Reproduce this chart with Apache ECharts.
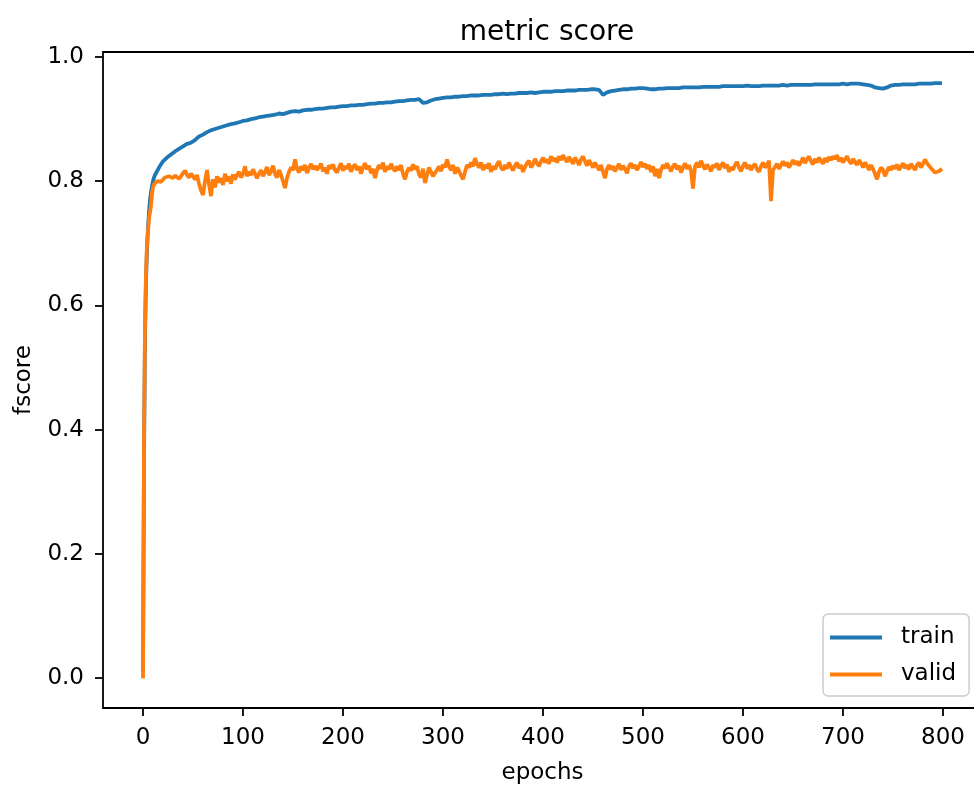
<!DOCTYPE html>
<html>
<head>
<meta charset="utf-8">
<script src="https://cdn.jsdelivr.net/npm/echarts@6/dist/echarts.min.js"></script>
<style>
  html, body { margin: 0; padding: 0; background: #ffffff; }
  #chart { width: 974px; height: 785px; }
</style>
</head>
<body>
<div id="chart"></div>
<script>
// train curve, read every 4 epochs after the initial ramp
const trainEpochs = [
  0, 1, 2, 3, 4, 5, 6, 7, 8, 9, 10, 11,
  12, 16, 20, 24, 28, 32, 36, 40, 44, 48,
  52, 56, 60, 64, 68, 72, 76, 80, 84, 88,
  92, 96, 100, 104, 108, 112, 116, 120, 124, 128,
  132, 136, 140, 144, 148, 152, 156, 160, 164, 168,
  172, 176, 180, 184, 188, 192, 196, 200, 204, 208,
  212, 216, 220, 224, 228, 232, 236, 240, 244, 248,
  252, 256, 260, 264, 268, 272, 276, 280, 284, 288,
  292, 296, 300, 304, 308, 312, 316, 320, 324, 328,
  332, 336, 340, 344, 348, 352, 356, 360, 364, 368,
  372, 376, 380, 384, 388, 392, 396, 400, 404, 408,
  412, 416, 420, 424, 428, 432, 436, 440, 444, 448,
  452, 456, 460, 464, 468, 472, 476, 480, 484, 488,
  492, 496, 500, 504, 508, 512, 516, 520, 524, 528,
  532, 536, 540, 544, 548, 552, 556, 560, 564, 568,
  572, 576, 580, 584, 588, 592, 596, 600, 604, 608,
  612, 616, 620, 624, 628, 632, 636, 640, 644, 648,
  652, 656, 660, 664, 668, 672, 676, 680, 684, 688,
  692, 696, 700, 704, 708, 712, 716, 720, 724, 728,
  732, 736, 740, 744, 748, 752, 756, 760, 764, 768,
  772, 776, 780, 784, 788, 792, 796, 799
];

const trainScore = [
  0.010, 0.350, 0.550, 0.640, 0.690, 0.725, 0.750, 0.770, 0.782, 0.792, 0.800, 0.806,
  0.810, 0.822, 0.832, 0.838, 0.843, 0.848, 0.852, 0.856, 0.860, 0.862,
  0.866, 0.872, 0.875, 0.879, 0.882, 0.884, 0.886, 0.888, 0.890, 0.892,
  0.893, 0.895, 0.897, 0.898, 0.900, 0.901, 0.903, 0.904, 0.905, 0.906,
  0.907, 0.909, 0.908, 0.910, 0.912, 0.913, 0.912, 0.914, 0.915, 0.915,
  0.916, 0.917, 0.917, 0.918, 0.919, 0.919, 0.920, 0.921, 0.921, 0.922,
  0.922, 0.923, 0.923, 0.924, 0.925, 0.925, 0.926, 0.926, 0.927, 0.927,
  0.928, 0.929, 0.929, 0.930, 0.931, 0.931, 0.932, 0.926, 0.927, 0.930,
  0.932, 0.933, 0.934, 0.935, 0.935, 0.936, 0.936, 0.937, 0.937, 0.938,
  0.938, 0.938, 0.939, 0.939, 0.939, 0.940, 0.940, 0.941, 0.940, 0.941,
  0.941, 0.942, 0.942, 0.942, 0.943, 0.942, 0.943, 0.944, 0.944, 0.944,
  0.945, 0.945, 0.945, 0.946, 0.946, 0.946, 0.947, 0.947, 0.947, 0.948,
  0.948, 0.947, 0.939, 0.943, 0.945, 0.946, 0.947, 0.948, 0.948, 0.949,
  0.949, 0.950, 0.950, 0.949, 0.948, 0.948, 0.949, 0.949, 0.950, 0.950,
  0.950, 0.950, 0.951, 0.951, 0.951, 0.951, 0.951, 0.952, 0.952, 0.952,
  0.952, 0.952, 0.953, 0.953, 0.953, 0.953, 0.953, 0.953, 0.954, 0.953,
  0.953, 0.953, 0.954, 0.954, 0.954, 0.954, 0.954, 0.955, 0.954, 0.955,
  0.955, 0.955, 0.955, 0.955, 0.955, 0.956, 0.956, 0.956, 0.956, 0.956,
  0.956, 0.956, 0.957, 0.956, 0.957, 0.957, 0.957, 0.956, 0.955, 0.954,
  0.951, 0.950, 0.949, 0.951, 0.954, 0.955, 0.955, 0.956, 0.956, 0.956,
  0.956, 0.957, 0.957, 0.957, 0.957, 0.958, 0.958, 0.958
];

// valid curve, read every 2 epochs after the initial ramp
const validEpochs = [
  0, 1, 2, 3, 4, 5, 6, 7, 8, 9, 10, 11,
  12, 14, 16, 18, 20, 22, 24, 26, 28, 30, 32, 34, 36, 38, 40, 42, 44, 46, 48, 50,
  52, 54, 56, 58, 60, 62, 64, 66, 68, 70, 72, 74, 76, 78, 80, 82, 84, 86, 88, 90,
  92, 94, 96, 98, 100, 102, 104, 106, 108, 110, 112, 114, 116, 118, 120, 122, 124, 126, 128, 130,
  132, 134, 136, 138, 140, 142, 144, 146, 148, 150, 152, 154, 156, 158, 160, 162, 164, 166, 168, 170,
  172, 174, 176, 178, 180, 182, 184, 186, 188, 190, 192, 194, 196, 198, 200, 202, 204, 206, 208, 210,
  212, 214, 216, 218, 220, 222, 224, 226, 228, 230, 232, 234, 236, 238, 240, 242, 244, 246, 248, 250,
  252, 254, 256, 258, 260, 262, 264, 266, 268, 270, 272, 274, 276, 278, 280, 282, 284, 286, 288, 290,
  292, 294, 296, 298, 300, 302, 304, 306, 308, 310, 312, 314, 316, 318, 320, 322, 324, 326, 328, 330,
  332, 334, 336, 338, 340, 342, 344, 346, 348, 350, 352, 354, 356, 358, 360, 362, 364, 366, 368, 370,
  372, 374, 376, 378, 380, 382, 384, 386, 388, 390, 392, 394, 396, 398, 400, 402, 404, 406, 408, 410,
  412, 414, 416, 418, 420, 422, 424, 426, 428, 430, 432, 434, 436, 438, 440, 442, 444, 446, 448, 450,
  452, 454, 456, 458, 460, 462, 464, 466, 468, 470, 472, 474, 476, 478, 480, 482, 484, 486, 488, 490,
  492, 494, 496, 498, 500, 502, 504, 506, 508, 510, 512, 514, 516, 518, 520, 522, 524, 526, 528, 530,
  532, 534, 536, 538, 540, 542, 544, 546, 548, 550, 552, 554, 556, 558, 560, 562, 564, 566, 568, 570,
  572, 574, 576, 578, 580, 582, 584, 586, 588, 590, 592, 594, 596, 598, 600, 602, 604, 606, 608, 610,
  612, 614, 616, 618, 620, 622, 624, 626, 628, 630, 632, 634, 636, 638, 640, 642, 644, 646, 648, 650,
  652, 654, 656, 658, 660, 662, 664, 666, 668, 670, 672, 674, 676, 678, 680, 682, 684, 686, 688, 690,
  692, 694, 696, 698, 700, 702, 704, 706, 708, 710, 712, 714, 716, 718, 720, 722, 724, 726, 728, 730,
  732, 734, 736, 738, 740, 742, 744, 746, 748, 750, 752, 754, 756, 758, 760, 762, 764, 766, 768, 770,
  772, 774, 776, 778, 780, 782, 784, 786, 788, 790, 792, 794, 796, 798, 799
];

const validScore = [
  0.000, 0.380, 0.570, 0.650, 0.700, 0.720, 0.740, 0.750, 0.760, 0.780, 0.790, 0.795,
  0.797, 0.800, 0.803, 0.799, 0.801, 0.806, 0.803, 0.808, 0.811, 0.805, 0.809, 0.812, 0.804, 0.808, 0.813, 0.817, 0.810, 0.806, 0.812, 0.808,
  0.803, 0.810, 0.796, 0.785, 0.778, 0.800, 0.818, 0.795, 0.776, 0.803, 0.790, 0.808, 0.798, 0.805, 0.794, 0.812, 0.800, 0.808, 0.796, 0.811,
  0.803, 0.810, 0.815, 0.806, 0.812, 0.824, 0.808, 0.815, 0.810, 0.819, 0.822, 0.805, 0.812, 0.818, 0.808, 0.815, 0.823, 0.810, 0.816, 0.825,
  0.812, 0.806, 0.818, 0.810, 0.800, 0.789, 0.805, 0.815, 0.822, 0.818, 0.835, 0.820, 0.814, 0.824, 0.818, 0.826, 0.813, 0.822, 0.828, 0.819,
  0.825, 0.818, 0.823, 0.828, 0.816, 0.822, 0.812, 0.826, 0.820, 0.827, 0.818, 0.814, 0.822, 0.829, 0.817, 0.824, 0.820, 0.828, 0.815, 0.823,
  0.827, 0.818, 0.824, 0.812, 0.822, 0.829, 0.819, 0.825, 0.813, 0.820, 0.805, 0.818, 0.826, 0.820, 0.830, 0.815, 0.824, 0.819, 0.828, 0.821,
  0.816, 0.824, 0.818, 0.826, 0.812, 0.803, 0.815, 0.822, 0.817, 0.827, 0.819, 0.824, 0.811, 0.806, 0.820, 0.797, 0.810, 0.822, 0.815, 0.808,
  0.805, 0.818, 0.824, 0.816, 0.827, 0.822, 0.835, 0.824, 0.818, 0.826, 0.812, 0.822, 0.817, 0.809, 0.803, 0.815, 0.826, 0.822, 0.830, 0.824,
  0.837, 0.828, 0.822, 0.830, 0.818, 0.826, 0.821, 0.829, 0.815, 0.824, 0.819, 0.827, 0.832, 0.822, 0.818, 0.826, 0.820, 0.830, 0.823, 0.817,
  0.825, 0.830, 0.821, 0.826, 0.815, 0.823, 0.829, 0.833, 0.822, 0.827, 0.836, 0.829, 0.824, 0.832, 0.838, 0.830, 0.835, 0.828, 0.840, 0.833,
  0.837, 0.830, 0.840, 0.834, 0.842, 0.836, 0.831, 0.839, 0.834, 0.828, 0.838, 0.833, 0.826, 0.835, 0.840, 0.832, 0.825, 0.834, 0.828, 0.822,
  0.830, 0.824, 0.818, 0.826, 0.815, 0.805, 0.820, 0.826, 0.819, 0.824, 0.816, 0.822, 0.828, 0.818, 0.825, 0.820, 0.813, 0.824, 0.829, 0.821,
  0.826, 0.818, 0.824, 0.831, 0.823, 0.828, 0.820, 0.826, 0.815, 0.824, 0.808, 0.820, 0.805, 0.818, 0.826, 0.821, 0.829, 0.822, 0.816, 0.824,
  0.828, 0.819, 0.825, 0.814, 0.822, 0.829, 0.820, 0.826, 0.817, 0.788, 0.824, 0.830, 0.822, 0.833, 0.825, 0.819, 0.827, 0.822, 0.816, 0.826,
  0.822, 0.829, 0.818, 0.825, 0.830, 0.821, 0.827, 0.815, 0.823, 0.818, 0.826, 0.831, 0.822, 0.816, 0.825, 0.830, 0.820, 0.826, 0.818, 0.824,
  0.828, 0.819, 0.815, 0.824, 0.830, 0.822, 0.826, 0.833, 0.768, 0.818, 0.823, 0.828, 0.820, 0.826, 0.832, 0.825, 0.830, 0.822, 0.828, 0.834,
  0.827, 0.832, 0.825, 0.831, 0.838, 0.829, 0.835, 0.840, 0.832, 0.827, 0.836, 0.830, 0.838, 0.833, 0.828, 0.837, 0.831, 0.839, 0.834, 0.840,
  0.836, 0.842, 0.832, 0.838, 0.830, 0.835, 0.840, 0.833, 0.828, 0.836, 0.831, 0.826, 0.834, 0.829, 0.822, 0.830, 0.825, 0.818, 0.826, 0.820,
  0.812, 0.803, 0.815, 0.822, 0.818, 0.808, 0.816, 0.823, 0.818, 0.825, 0.820, 0.827, 0.818, 0.824, 0.829, 0.821, 0.826, 0.819, 0.828, 0.823,
  0.818, 0.826, 0.830, 0.822, 0.828, 0.835, 0.829, 0.826, 0.821, 0.818, 0.814, 0.813, 0.816, 0.819, 0.820
];

const xTicks = [0, 100, 200, 300, 400, 500, 600, 700, 800];
const yTicks = [0, 0.2, 0.4, 0.6, 0.8, 1.0];

const TRAIN_COLOR = "#1f77b4";
const VALID_COLOR = "#ff7f0e";
const FONT = "DejaVu Sans";

const chart = echarts.init(document.getElementById("chart"));

const tickStyle = { show: true, inside: false, length: 8, lineStyle: { color: "#000", width: 1.8 } };

const option = {
  backgroundColor: "#ffffff",
  animation: false,
  title: {
    text: "metric score",
    left: 542,
    top: 14,
    textAlign: "center",
    textStyle: { fontFamily: FONT, fontSize: 28, fontWeight: "normal", color: "#000" },
  },
  legend: {
    orient: "vertical",
    left: 823,
    top: 614,
    padding: [12, 13, 10, 7],
    itemGap: 14,
    itemWidth: 52,
    itemHeight: 4,
    icon: "rect",
    borderColor: "#cccccc",
    borderWidth: 1.5,
    borderRadius: 5,
    backgroundColor: "rgba(255,255,255,0.8)",
    textStyle: { fontFamily: FONT, fontSize: 23, color: "#000", padding: [0, 0, 0, 14] },
    data: ["train", "valid"],
  },
  grid: {
    left: 103,
    top: 52,
    width: 879,
    height: 656,
    outerBoundsMode: "none",
    show: true,
    borderColor: "#000",
    borderWidth: 1.8,
    backgroundColor: "transparent",
  },
  xAxis: {
    type: "value",
    min: -40,
    max: 839,
    splitLine: { show: false },
    axisLine: { show: false, onZero: false },
    name: "epochs",
    nameLocation: "middle",
    nameGap: 54,
    nameTextStyle: { fontFamily: FONT, fontSize: 23, color: "#000" },
    axisTick: { ...tickStyle, customValues: xTicks },
    axisLabel: { customValues: xTicks, margin: 19, fontFamily: FONT, fontSize: 23, color: "#000" },
  },
  yAxis: {
    type: "value",
    min: -0.048,
    max: 1.008,
    splitLine: { show: false },
    axisLine: { show: false, onZero: false },
    name: "fscore",
    nameLocation: "middle",
    nameGap: 67,
    nameRotate: 90,
    nameTextStyle: { fontFamily: FONT, fontSize: 23, color: "#000" },
    axisTick: { ...tickStyle, customValues: yTicks },
    axisLabel: {
      customValues: yTicks,
      margin: 19,
      fontFamily: FONT,
      fontSize: 23,
      color: "#000",
      formatter: (v) => v.toFixed(1),
    },
  },
  series: [
    {
      name: "train",
      type: "line",
      showSymbol: false,
      symbol: "none",
      itemStyle: { color: TRAIN_COLOR },
      lineStyle: { color: TRAIN_COLOR, width: 3.8 },
      data: trainEpochs.map((e, i) => [e, trainScore[i]]),
    },
    {
      name: "valid",
      type: "line",
      showSymbol: false,
      symbol: "none",
      itemStyle: { color: VALID_COLOR },
      lineStyle: { color: VALID_COLOR, width: 3.8 },
      data: validEpochs.map((e, i) => [e, validScore[i]]),
    },
  ],
};

chart.setOption(option);
</script>
</body>
</html>
